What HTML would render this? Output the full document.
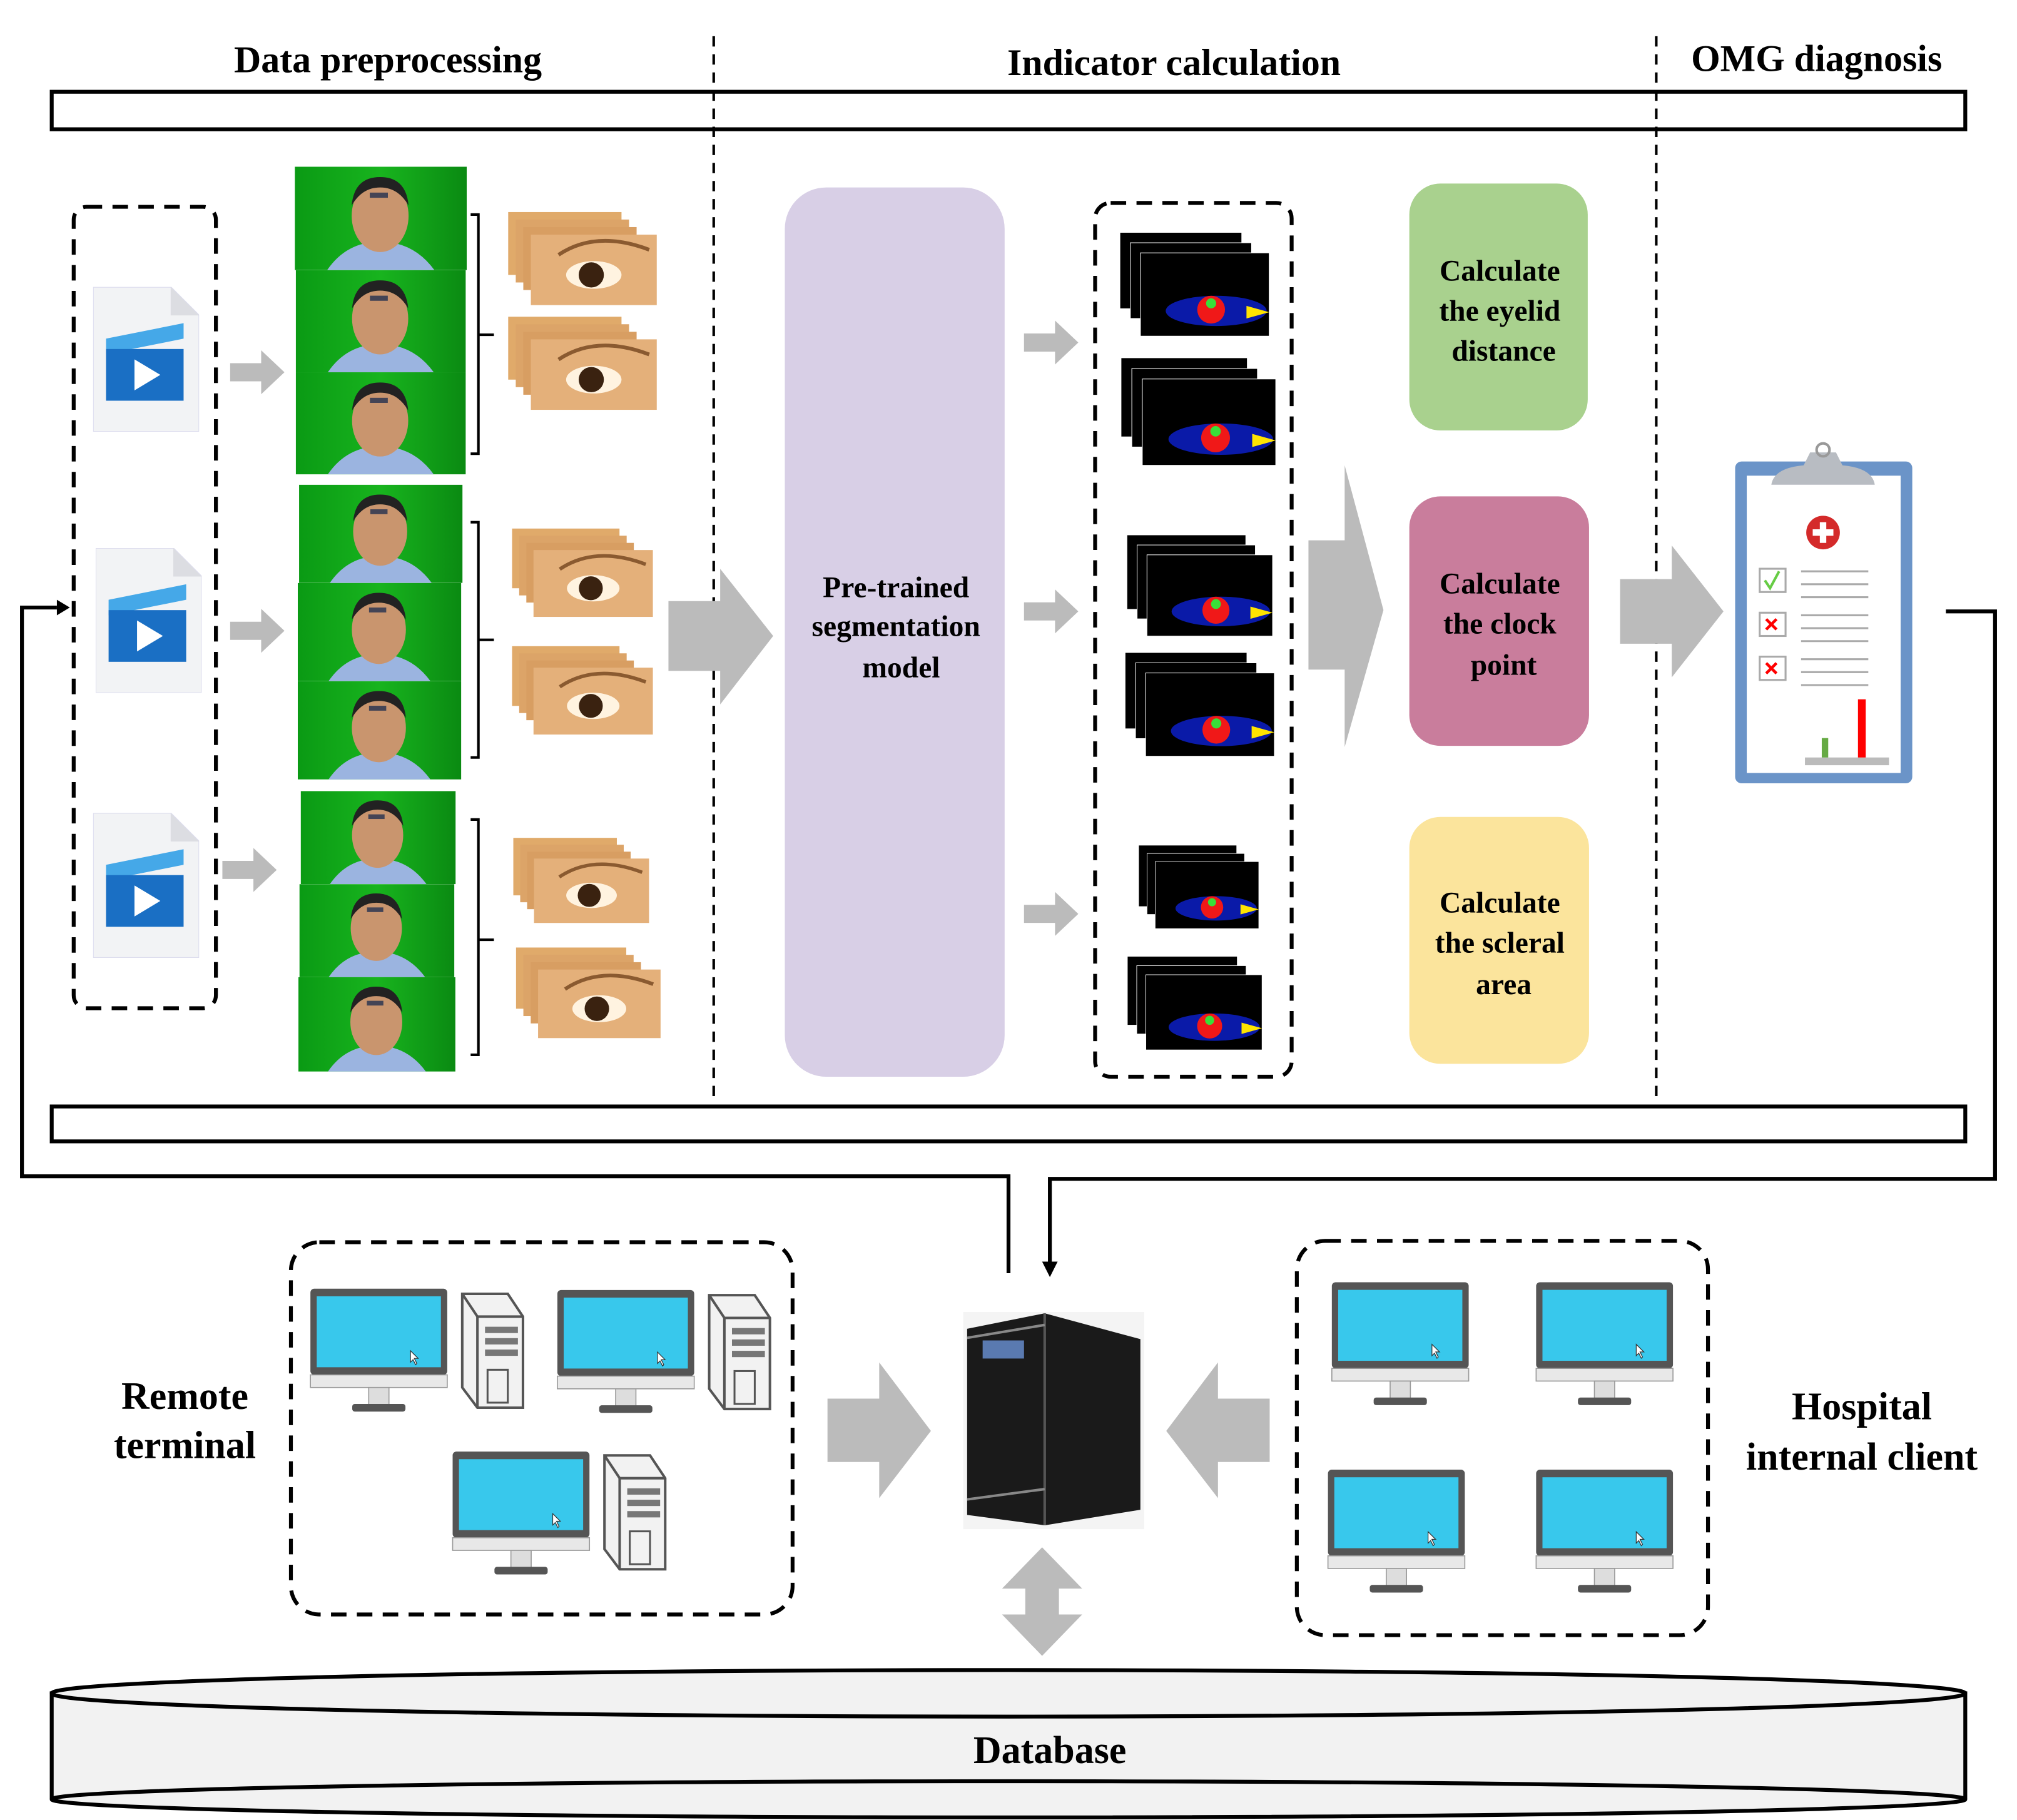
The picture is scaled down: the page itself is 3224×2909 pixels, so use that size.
<!DOCTYPE html>
<html><head><meta charset="utf-8"><style>html,body{margin:0;padding:0;background:#fff}svg{display:block}</style></head><body>
<svg width="3224" height="2909" viewBox="0 0 1560 1408" preserveAspectRatio="none" xmlns="http://www.w3.org/2000/svg" font-family="Liberation Serif, serif" font-weight="bold">
<defs>
<linearGradient id="gr" x1="0" x2="1"><stop offset="0" stop-color="#0a9a14"/><stop offset=".5" stop-color="#18b41e"/><stop offset="1" stop-color="#0a8a12"/></linearGradient>
<symbol id="face" viewBox="0 0 133 80"><rect width="133" height="80" fill="url(#gr)"/><path d="M25 80 Q40 58 66 58 Q92 58 108 80Z" fill="#9bb4e0"/><ellipse cx="66" cy="38" rx="22" ry="28" fill="#c9956e"/><path d="M44 30 Q46 8 66 8 Q86 8 88 30 Q80 16 66 16 Q52 16 44 30Z" fill="#222"/><rect x="58" y="20" width="14" height="4" fill="#445"/></symbol>
<symbol id="eye" viewBox="0 0 118 76"><rect x="0" y="0" width="90" height="50" fill="#e0aa6a"/><rect x="6" y="6" width="90" height="50" fill="#dca468"/><rect x="12" y="12" width="90" height="50" fill="#d89e62"/><rect x="18" y="18" width="100" height="56" fill="#e4b07a"/><path d="M40 34 Q70 14 112 30" stroke="#8a5a30" stroke-width="3" fill="none"/><ellipse cx="68" cy="50" rx="22" ry="11" fill="#fff3e0"/><circle cx="66" cy="50" r="10" fill="#3a2210"/></symbol>
<symbol id="mask" viewBox="0 0 120 84"><rect x="0" y="0" width="96" height="60" fill="#000"/><rect x="8" y="8" width="96" height="60" fill="#000" stroke="#fff" stroke-width=".5"/><rect x="16" y="16" width="102" height="66" fill="#000" stroke="#fff" stroke-width=".5"/><ellipse cx="76" cy="62" rx="40" ry="12" fill="#0a1aa8"/><path d="M100 58 L118 63 L100 68Z" fill="#ffe400"/><circle cx="72" cy="61" r="11" fill="#f01818"/><circle cx="72" cy="56" r="4" fill="#38e038"/></symbol>
<symbol id="mon" viewBox="0 0 110 100"><rect x="1" y="1" width="108" height="68" rx="3" fill="#555"/><rect x="6" y="7" width="98" height="56" fill="#38c8ec"/><rect x="1" y="69" width="108" height="10" fill="#e8e8e8" stroke="#999" stroke-width=".8"/><rect x="47" y="79" width="16" height="14" fill="#ddd" stroke="#999" stroke-width=".8"/><rect x="34" y="92" width="42" height="6" rx="2" fill="#555"/><path d="M80 50 l0 9 l2-2 l2 4 l1-1 l-2-4 l3 0z" fill="#fff" stroke="#333" stroke-width=".6"/></symbol>
<symbol id="tower" viewBox="0 0 52 94"><path d="M2 2 L38 2 L50 20 L50 92 L14 92 L2 76Z" fill="#f2f2f2" stroke="#555" stroke-width="2"/><path d="M14 20 L50 20 M14 20 L14 92 M2 2 L14 20" stroke="#555" stroke-width="2" fill="none"/><rect x="20" y="28" width="26" height="5" fill="#777"/><rect x="20" y="37" width="26" height="5" fill="#777"/><rect x="20" y="46" width="26" height="5" fill="#777"/><rect x="22" y="62" width="16" height="26" fill="none" stroke="#555" stroke-width="1.5"/></symbol>
<symbol id="file" viewBox="0 0 82 112"><path d="M0 0 L60 0 L82 22 L82 112 L0 112Z" fill="#f2f3f5" stroke="#dde" stroke-width="1"/><path d="M60 0 L60 22 L82 22Z" fill="#dcdde2"/><path d="M10 40 L70 28 L70 40 L10 52Z" fill="#45a8e8"/><rect x="10" y="48" width="60" height="40" fill="#1a6fc4"/><path d="M32 56 L52 68 L32 80Z" fill="#fff"/></symbol>
</defs>

<!-- titles -->
<text x="300" y="56" font-size="29" text-anchor="middle">Data preprocessing</text>
<text x="908" y="58" font-size="29" text-anchor="middle">Indicator calculation</text>
<text x="1405" y="55" font-size="29" text-anchor="middle">OMG diagnosis</text>
<g stroke="#000" stroke-width="2" stroke-dasharray="8,6"><line x1="552" y1="28" x2="552" y2="852"/><line x1="1281" y1="28" x2="1281" y2="852"/></g>
<rect x="40" y="71" width="1480" height="29" fill="none" stroke="#000" stroke-width="3"/>
<rect x="40" y="856" width="1480" height="27" fill="none" stroke="#000" stroke-width="3"/>

<!-- left dashed box -->
<rect x="57" y="160" width="110" height="620" rx="10" fill="none" stroke="#000" stroke-width="3" stroke-dasharray="12,8"/>
<use href="#file" x="72" y="222" width="82" height="112"/>
<use href="#file" x="74" y="424" width="82" height="112"/>
<use href="#file" x="72" y="629" width="82" height="112"/>
<g fill="#bbb"><path d="M178 281 h24 v-10 l18 17 -18 17 v-10 h-24z"/><path d="M178 481 h24 v-10 l18 17 -18 17 v-10 h-24z"/><path d="M172 666 h24 v-10 l18 17 -18 17 v-10 h-24z"/>
<path d="M792 258 h24 v-10 l18 17 -18 17 v-10 h-24z"/><path d="M792 466 h24 v-10 l18 17 -18 17 v-10 h-24z"/><path d="M792 700 h24 v-10 l18 17 -18 17 v-10 h-24z"/></g>

<!-- faces -->
<use href="#face" x="228" y="129" width="133" height="80"/><use href="#face" x="228" y="209" width="133" height="79"/><use href="#face" x="228" y="288" width="133" height="79"/>
<use href="#face" x="228" y="375" width="133" height="76"/><use href="#face" x="227" y="451" width="133" height="76"/><use href="#face" x="227" y="527" width="133" height="76"/>
<use href="#face" x="226" y="612" width="133" height="72"/><use href="#face" x="225" y="684" width="133" height="72"/><use href="#face" x="224" y="756" width="135" height="73"/>
<g stroke="#000" stroke-width="2" fill="none"><path d="M364 166 h6 v185 h-6 M370 259 h12"/><path d="M364 404 h6 v182 h-6 M370 495 h12"/><path d="M364 634 h6 v182 h-6 M370 727 h12"/></g>
<use href="#eye" x="392" y="164" width="117" height="74"/><use href="#eye" x="392" y="245" width="117" height="74"/>
<use href="#eye" x="396" y="406" width="109" height="76"/><use href="#eye" x="396" y="497" width="109" height="76"/>
<use href="#eye" x="397" y="645" width="105" height="74"/><use href="#eye" x="399" y="733" width="112" height="72"/>

<path d="M517 465 h40 v-25 l41 52 -41 53 v-26 h-40z" fill="#bbb"/>
<rect x="607" y="145" width="170" height="688" rx="32" fill="#d8cfe6"/>
<g font-size="23" text-anchor="middle"><text x="693" y="462">Pre-trained</text><text x="693" y="492">segmentation</text><text x="697" y="524">model</text></g>

<rect x="847" y="157" width="152" height="676" rx="12" fill="none" stroke="#000" stroke-width="3" stroke-dasharray="12,8"/>
<use href="#mask" x="866" y="180" width="118" height="82"/><use href="#mask" x="866" y="277" width="124" height="85"/>
<use href="#mask" x="870" y="414" width="118" height="80"/><use href="#mask" x="870" y="505" width="118" height="82"/>
<use href="#mask" x="872" y="654" width="112" height="66"/><use href="#mask" x="871" y="740" width="108" height="74"/>

<path d="M1012 418 h28 v-58 l30 112 -30 106 v-60 h-28z" fill="#bbb"/>
<rect x="1090" y="142" width="138" height="191" rx="24" fill="#a9d18e"/>
<rect x="1090" y="384" width="139" height="193" rx="24" fill="#c97d9c"/>
<rect x="1090" y="632" width="139" height="191" rx="24" fill="#fbe49c"/>
<g font-size="23" text-anchor="middle"><text x="1160" y="217">Calculate</text><text x="1160" y="248">the eyelid</text><text x="1163" y="279">distance</text>
<text x="1160" y="459">Calculate</text><text x="1160" y="490">the clock</text><text x="1163" y="522">point</text>
<text x="1160" y="706">Calculate</text><text x="1160" y="737">the scleral</text><text x="1163" y="769">area</text></g>

<path d="M1253 448 h40 v-26 l40 51 -40 51 v-26 h-40z" fill="#bbb"/>
<!-- clipboard -->
<rect x="1342" y="357" width="137" height="249" rx="5" fill="#6b94c8"/><rect x="1351" y="368" width="119" height="230" fill="#fff"/>
<path d="M1370 375 Q1372 362 1395 360 L1400 350 L1420 350 L1425 360 Q1448 362 1450 375Z" fill="#b8bcc2"/><circle cx="1410" cy="348" r="5" fill="none" stroke="#999" stroke-width="2"/>
<circle cx="1410" cy="412" r="13" fill="#d42a2a"/><path d="M1410 404 v16 M1402 412 h16" stroke="#fff" stroke-width="5"/>
<g stroke="#aaa" stroke-width="1.5"><rect x="1361" y="440" width="20" height="18" fill="none"/><rect x="1361" y="474" width="20" height="18" fill="none"/><rect x="1361" y="508" width="20" height="18" fill="none"/>
<path d="M1393 442h52M1393 452h52M1393 462h52M1393 476h52M1393 486h52M1393 496h52M1393 510h52M1393 520h52M1393 530h52"/></g>
<path d="M1365 449 l4 6 l7 -13" stroke="#6c4" stroke-width="2" fill="none"/>
<path d="M1366 479 l8 8 M1374 479 l-8 8 M1366 513 l8 8 M1374 513 l-8 8" stroke="#f00" stroke-width="2.2"/>
<rect x="1396" y="586" width="65" height="6" fill="#bbb"/><rect x="1409" y="571" width="5" height="15" fill="#6a4"/><rect x="1437" y="541" width="6" height="45" fill="#f00"/>

<!-- connectors -->
<g stroke="#000" stroke-width="3" fill="none"><path d="M1505 473 H1543 V912 H812 V978"/><path d="M780 985 V910 H17 V470 H44"/></g>
<path d="M806 976 h12 l-6 12z M44 464 v12 l10 -6z" fill="#000"/>

<!-- lower -->
<rect x="225" y="961" width="388" height="288" rx="22" fill="none" stroke="#000" stroke-width="3" stroke-dasharray="12,8"/>
<use href="#mon" x="239" y="996" width="108" height="98"/><use href="#tower" x="355" y="999" width="52" height="92"/>
<use href="#mon" x="430" y="997" width="108" height="98"/><use href="#tower" x="546" y="1000" width="52" height="92"/>
<use href="#mon" x="349" y="1122" width="108" height="98"/><use href="#tower" x="465" y="1124" width="52" height="92"/>
<g font-size="30" text-anchor="middle"><text x="143" y="1090">Remote</text><text x="143" y="1128">terminal</text>
<text x="1440" y="1098">Hospital</text><text x="1440" y="1137">internal client</text></g>

<path d="M640 1082 h40 v-28 l40 53 -40 52 v-28 h-40z" fill="#bbb"/>
<path d="M982 1082 h-40 v-28 l-40 53 40 52 v-28 h40z" fill="#bbb"/>
<!-- server -->
<rect x="745" y="1015" width="140" height="168" fill="#f4f4f4"/>
<path d="M748 1028 L808 1016 L882 1036 L882 1168 L808 1180 L748 1172Z" fill="#1a1a1a"/>
<path d="M808 1016 L808 1180" stroke="#555" stroke-width="2"/><rect x="760" y="1037" width="32" height="14" fill="#5a7ab0"/>
<path d="M748 1035 L808 1025 M748 1160 L808 1152" stroke="#888" stroke-width="2"/>
<path d="M806 1197 l-31 32 h18 v20 h-18 l31 32 31 -32 h-18 v-20 h18z" fill="#bbb"/>

<rect x="1003" y="960" width="318" height="305" rx="22" fill="none" stroke="#000" stroke-width="3" stroke-dasharray="12,8"/>
<use href="#mon" x="1029" y="991" width="108" height="98"/><use href="#mon" x="1187" y="991" width="108" height="98"/>
<use href="#mon" x="1026" y="1136" width="108" height="98"/><use href="#mon" x="1187" y="1136" width="108" height="98"/>

<!-- database -->
<path d="M40 1310 V1392 A740 14 0 0 0 1520 1392 V1310Z" fill="#f2f2f2" stroke="#000" stroke-width="3"/>
<ellipse cx="780" cy="1310" rx="740" ry="18" fill="#f2f2f2" stroke="#000" stroke-width="3"/>
<path d="M40 1392 A740 14 0 0 1 1520 1392" fill="none" stroke="#000" stroke-width="3"/>
<text x="812" y="1364" font-size="30" text-anchor="middle">Database</text>
</svg>
</body></html>
